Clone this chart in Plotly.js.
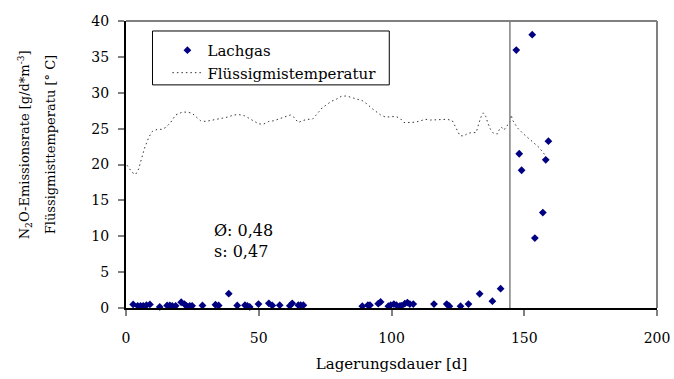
<!DOCTYPE html>
<html>
<head>
<meta charset="utf-8">
<script src="https://cdn.plot.ly/plotly-3.0.1.min.js"></script>
<style>html,body{margin:0;padding:0;background:#fff;}#chart{width:674px;height:379px;}</style>
</head>
<body>
<div id="chart"></div>
<script>
// Lachgas (N2O emission rate)
const gasDays = [2.7,4.4,5.5,6.5,7.7,9.0,12.7,15.5,16.5,17.4,18.7,20.8,22.0,22.8,24.0,24.9,28.8,33.7,34.9,38.7,41.9,44.8,45.7,46.6,49.9,53.8,55.1,57.9,61.7,62.6,64.9,65.8,66.8,89.0,91.1,91.9,95.0,95.9,98.8,99.7,100.9,101.9,103.2,103.8,105.0,106.0,106.9,108.2,116.0,120.8,121.8,126.0,129.0,133.2,138.0,141.1,147.0,148.1,149.0,153.0,154.0,157.0,158.1,159.1];
const gasValues = [0.5,0.3,0.3,0.3,0.4,0.5,0.15,0.35,0.35,0.3,0.3,0.8,0.55,0.3,0.3,0.3,0.35,0.45,0.35,2.0,0.35,0.4,0.3,0.15,0.55,0.65,0.35,0.4,0.3,0.65,0.4,0.4,0.4,0.25,0.4,0.4,0.6,0.85,0.25,0.4,0.55,0.4,0.3,0.3,0.6,0.75,0.55,0.55,0.55,0.55,0.25,0.25,0.55,1.97,0.95,2.7,35.95,21.5,19.2,38.1,9.75,13.3,20.65,23.25];
// Flüssigmistemperatur
const tempDays = [0.4,2.3,3.6,4.8,5.8,7.0,8.6,9.9,11.8,13.6,14.9,16.8,18.7,21.2,23.1,24.9,26.2,28.1,30.0,31.8,34.4,36.2,38.1,40.6,42.5,44.6,46.3,48.2,50.0,51.9,53.8,55.7,57.6,59.5,62.0,63.2,64.9,66.4,68.3,70.2,71.4,72.6,73.9,75.8,77.3,79.2,81.1,83.0,84.9,87.1,89.0,90.9,92.5,94.0,95.9,97.8,99.7,101.5,103.2,104.7,106.6,109.1,111.0,112.8,114.7,117.0,119.1,121.0,122.9,123.8,124.8,125.8,127.3,128.8,130.4,131.9,132.9,133.8,134.6,135.5,136.3,137.3,138.4,139.9,140.5,141.4,142.4,143.4,144.2,144.6,145.1,145.6,146.4,147.6,149.3,150.9,152.4,153.9,155.5,156.8,158.1];
const tempValues = [19.9,18.9,18.6,19.4,20.75,22.3,23.8,24.6,24.9,24.9,25.15,25.85,26.9,27.3,27.3,27.15,26.7,26.1,26.0,26.1,26.3,26.45,26.6,26.9,26.95,26.8,26.45,26.0,25.65,25.65,26.0,26.1,26.3,26.6,26.9,26.6,25.85,26.1,26.3,26.3,26.8,27.4,27.9,28.4,28.8,29.1,29.5,29.55,29.3,29.1,28.9,28.4,27.85,27.4,26.9,26.6,26.6,26.7,26.45,25.85,25.85,25.9,26.1,26.3,26.2,26.2,26.3,26.3,26.1,25.4,24.6,24.0,24.0,24.35,24.45,24.45,25.75,26.7,27.2,26.7,25.75,24.9,24.35,24.25,24.8,25.2,24.8,25.4,25.6,26.0,26.9,26.2,25.7,25.05,24.4,23.9,23.45,22.9,22.4,21.8,21.2];
const xTicks = [0,50,100,150,200];
const yTicks = [0,5,10,15,20,25,30,35,40];
const markerDay = 144.6;
const statsText = "Ø: 0,48<br>s: 0,47";
const yTitleLines = ['N<sub>2</sub>O-Emissionsrate [g/d*m<sup>-3</sup>]', 'Flüssigmisttemperatu [° C]'];

const FONT = "DejaVu Serif";

const traces = [
  {x: gasDays, y: gasValues, type: 'scatter', mode: 'markers', name: 'Lachgas',
   marker: {symbol: 'diamond', size: 6, color: '#000080'}, cliponaxis: false},
  {x: tempDays, y: tempValues, type: 'scatter', mode: 'lines', name: 'Flüssigmistemperatur',
   line: {color: '#333', width: 1, dash: '1.5px,3px'}}
];

const layout = {
  width: 674, height: 379,
  margin: {l: 125.5, r: 17, t: 21, b: 70.5},
  paper_bgcolor: '#fff', plot_bgcolor: '#fff',
  font: {family: FONT, size: 14, color: '#000'},
  showlegend: true,
  legend: {x: 0.078, y: 0.955, xanchor: 'left', yanchor: 'top', bgcolor: 'rgba(0,0,0,0)',
           borderwidth: 0, font: {family: FONT, size: 15, color: '#000'}},
  xaxis: {range: [0, 200], tickvals: xTicks, ticktext: xTicks.map(String),
          showgrid: false, zeroline: false, showline: true, linecolor: '#000', linewidth: 2,
          ticks: 'outside', ticklen: 6, tickcolor: '#808080', tickwidth: 2,
          ticklabelstandoff: 10, tickfont: {family: FONT, size: 14},
          title: {text: 'Lagerungsdauer [d]', font: {family: FONT, size: 15}, standoff: 14}},
  yaxis: {range: [0, 40], tickvals: yTicks, ticktext: yTicks.map(String),
          showgrid: false, zeroline: false, showline: true, linecolor: '#000', linewidth: 2,
          ticks: 'outside', ticklen: 6, tickcolor: '#808080', tickwidth: 2,
          ticklabelstandoff: 6, tickfont: {family: FONT, size: 14}},
  shapes: [
    {type: 'line', xref: 'paper', yref: 'paper', x0: 0, x1: 1, y0: 1, y1: 1, line: {color: '#808080', width: 2}},
    {type: 'line', xref: 'paper', yref: 'paper', x0: 1, x1: 1, y0: 0, y1: 1, line: {color: '#808080', width: 2}},
    {type: 'line', xref: 'x', yref: 'paper', x0: markerDay, x1: markerDay, y0: 0, y1: 1, line: {color: '#808080', width: 1.5}},
    {type: 'rect', xref: 'paper', yref: 'paper', x0: 0.0499, x1: 0.4958, y0: 0.7774, y1: 0.9652,
     line: {color: '#000', width: 1}, fillcolor: 'rgba(0,0,0,0)'}
  ],
  annotations: [
    {text: yTitleLines[0], xref: 'paper', yref: 'paper', x: (24 - 125.5) / 531.5, y: 0.569,
     xanchor: 'center', yanchor: 'middle', textangle: -90, showarrow: false, font: {family: FONT, size: 13}},
    {text: yTitleLines[1], xref: 'paper', yref: 'paper', x: (50 - 125.5) / 531.5, y: 0.569,
     xanchor: 'center', yanchor: 'middle', textangle: -90, showarrow: false, font: {family: FONT, size: 13}},
    {text: statsText, xref: 'x', yref: 'y', x: 32.5, y: 9.3, xanchor: 'left', yanchor: 'middle',
     align: 'left', showarrow: false, font: {family: FONT, size: 16}}
  ]
};

Plotly.newPlot('chart', traces, layout, {staticPlot: true, displayModeBar: false});
</script>
</body>
</html>
